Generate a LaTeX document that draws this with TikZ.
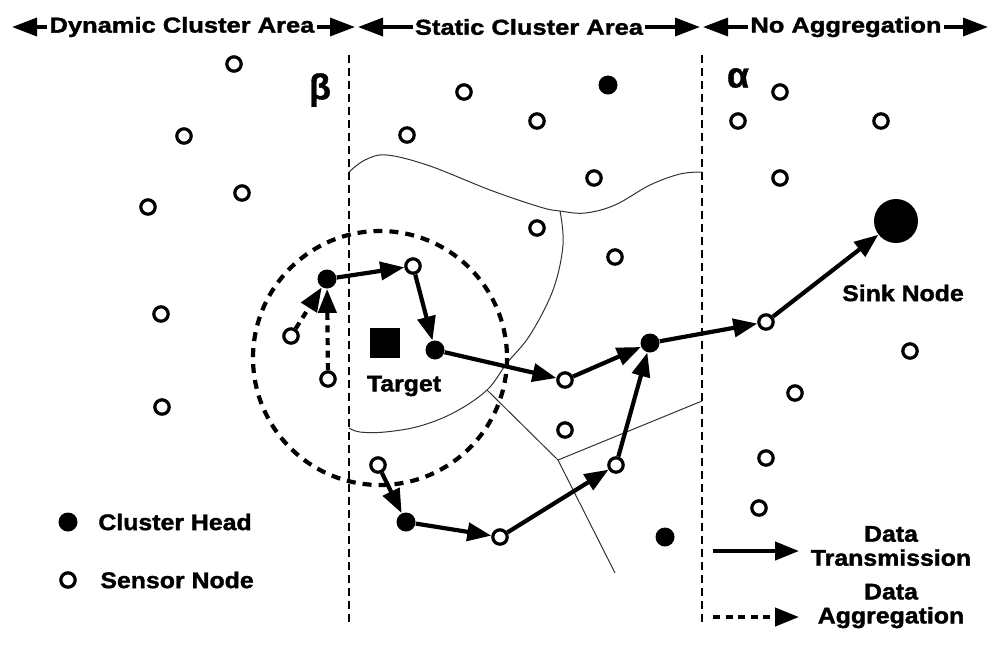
\documentclass[tikz,border=0pt]{standalone}
\usepackage{fontspec}
\newfontfamily\heavyH{Liberation Sans}[FakeStretch=1.18,FakeBold=1.6]
\newfontfamily\heavyL{Liberation Sans}[FakeStretch=1.1,FakeBold=1.6]
\newfontfamily\greek{Liberation Sans}[FakeBold=1]
\usetikzlibrary{arrows.meta}
\begin{document}
\begin{tikzpicture}[x=0.5pt,y=-0.5pt,
  hlbl/.style={font=\heavyH\bfseries\fontsize{10.8}{12}\selectfont, inner sep=0pt, inner xsep=1pt},
  lbl/.style={font=\heavyL\bfseries\fontsize{11.3}{12}\selectfont, inner sep=0pt, inner xsep=1pt},
  sym/.style={font=\greek\bfseries\fontsize{18}{20}\selectfont, inner sep=0pt},
  sensor/.style={circle,draw,line width=1.6pt,fill=white,minimum size=7.2pt,inner sep=0pt},
  head/.style={circle,fill,minimum size=9.5pt,inner sep=0pt},
  sink/.style={circle,fill,minimum size=22pt,inner sep=0pt},
  target/.style={rectangle,fill,minimum size=15pt,inner sep=0pt},
  tx/.style={line width=2.1pt,-{Triangle[length=12pt,width=9pt]}},
  agg/.style={tx,dash pattern=on 3.5pt off 2.8pt},
  hdr/.style={line width=1.7pt,-{Triangle[length=12.5pt,width=9pt]}},
  zone/.style={line width=0.6pt,dash pattern=on 4pt off 2.5pt},
  border/.style={line width=0.5pt,black!80},
  crange/.style={line width=2.1pt,dash pattern=on 4.5pt off 3.5pt},
]
\useasboundingbox (0,0) rectangle (1000,645);

% header
\node[hlbl] (dyn) at (182,27) {Dynamic Cluster Area};
\coordinate (dynL) at (12,27); \coordinate (dynR) at (355,27);
\draw[hdr] (dyn.west) -- (dynL);
\draw[hdr] (dyn.east) -- (dynR);
\node[hlbl] (sta) at (529,27) {Static Cluster Area};
\coordinate (staL) at (358,27); \coordinate (staR) at (700,27);
\draw[hdr] (sta.west) -- (staL);
\draw[hdr] (sta.east) -- (staR);
\node[hlbl] (noa) at (846,27) {No Aggregation};
\coordinate (noaL) at (703,27); \coordinate (noaR) at (988,27);
\draw[hdr] (noa.west) -- (noaL);
\draw[hdr] (noa.east) -- (noaR);

% zone borders
\coordinate (b1t) at (349,55); \coordinate (b1b) at (349,625);
\coordinate (b2t) at (702,55); \coordinate (b2b) at (702,625);
\draw[zone] (b1t) -- (b1b);
\draw[zone] (b2t) -- (b2b);
\node[sym] (beta) at (320,90) {β};
\node[sym] (alpha) at (738,78) {α};

% static cluster boundaries
\coordinate (J1) at (560,211);
\coordinate (J0) at (487,390);
\coordinate (J2) at (558,460);
\coordinate (E1) at (615,573);
\coordinate (E2) at (702,401);
\draw[border] plot[smooth, tension=0.6] coordinates {(349,172) (365,160) (387,155) (430,166) (490,190) (540,207) (560,211) (585,213) (615,205) (650,185) (680,174) (702,172)};
\draw[border] plot[smooth, tension=0.6] coordinates {(560,211) (563,245) (553,290) (530,335) (507,363) (487,390) (455,412) (420,426) (385,432) (360,432) (349,428)};
\draw[border] (J0) -- (J2) -- (E1);
\draw[border] (J2) -- (E2);

% cluster range
\draw[crange] (380,358) circle[radius=127];

% target
\node[target] (tgt) at (385,343) {};
\node[lbl] (tgtL) at (404,386) {Target};

% sink
\node[sink] (sink) at (896,221) {};
\node[lbl] (sinkL) at (903,293) {Sink Node};

% cluster heads
\node[head] (ch1) at (327,279) {};
\node[head] (ch2) at (435,350) {};
\node[head] (ch3) at (650,343) {};
\node[head] (ch4) at (406,522) {};
\node[head] (ch5) at (608,85) {};
\node[head] (ch6) at (665,537) {};

% path sensors
\node[sensor] (p1) at (413,266) {};
\node[sensor] (p2) at (565,380) {};
\node[sensor] (p3) at (766,322) {};
\node[sensor] (p4) at (378,465) {};
\node[sensor] (p5) at (500,537) {};
\node[sensor] (p6) at (616,465) {};
\node[sensor] (a1) at (291,336) {};
\node[sensor] (a2) at (328,379) {};

% other sensors
\node[sensor] (s1) at (234,64) {};
\node[sensor] (s2) at (184,136) {};
\node[sensor] (s3) at (242,193) {};
\node[sensor] (s4) at (148,207) {};
\node[sensor] (s5) at (161,314) {};
\node[sensor] (s6) at (162,407) {};
\node[sensor] (s7) at (464,92) {};
\node[sensor] (s8) at (407,135) {};
\node[sensor] (s9) at (537,121) {};
\node[sensor] (s10) at (594,178) {};
\node[sensor] (s11) at (537,228) {};
\node[sensor] (s12) at (615,257) {};
\node[sensor] (s13) at (565,430) {};
\node[sensor] (s14) at (780,92) {};
\node[sensor] (s15) at (738,121) {};
\node[sensor] (s16) at (881,121) {};
\node[sensor] (s17) at (780,178) {};
\node[sensor] (s18) at (910,351) {};
\node[sensor] (s19) at (795,393) {};
\node[sensor] (s20) at (766,458) {};
\node[sensor] (s21) at (759,508) {};

% transmissions
\draw[tx] (ch1) -- (p1);
\draw[tx] (p1) -- (ch2);
\draw[tx] (ch2) -- (p2);
\draw[tx] (p2) -- (ch3);
\draw[tx] (ch3) -- (p3);
\draw[tx] (p3) -- (sink);
\draw[tx] (p4) -- (ch4);
\draw[tx] (ch4) -- (p5);
\draw[tx] (p5) -- (p6);
\draw[tx] (p6) -- (ch3);
\draw[agg] (a1) -- (ch1);
\draw[agg] (a2) -- (ch1);

% legend
\node[head] (lgh) at (68,522) {};
\node[lbl,anchor=west] (lghT) at (96,522) {Cluster Head};
\node[sensor] (lgs) at (68,580) {};
\node[lbl,anchor=west] (lgsT) at (98,580) {Sensor Node};
\coordinate (ltA) at (713,551); \coordinate (ltB) at (799,551);
\draw[tx] (ltA) -- (ltB);
\node[lbl,align=center] (ltT) at (891,546) {Data\\Transmission};
\coordinate (laA) at (713,617); \coordinate (laB) at (799,617);
\draw[agg] (laA) -- (laB);
\node[lbl,align=center] (laT) at (891,606) {Data\\Aggregation};
\end{tikzpicture}
\end{document}
